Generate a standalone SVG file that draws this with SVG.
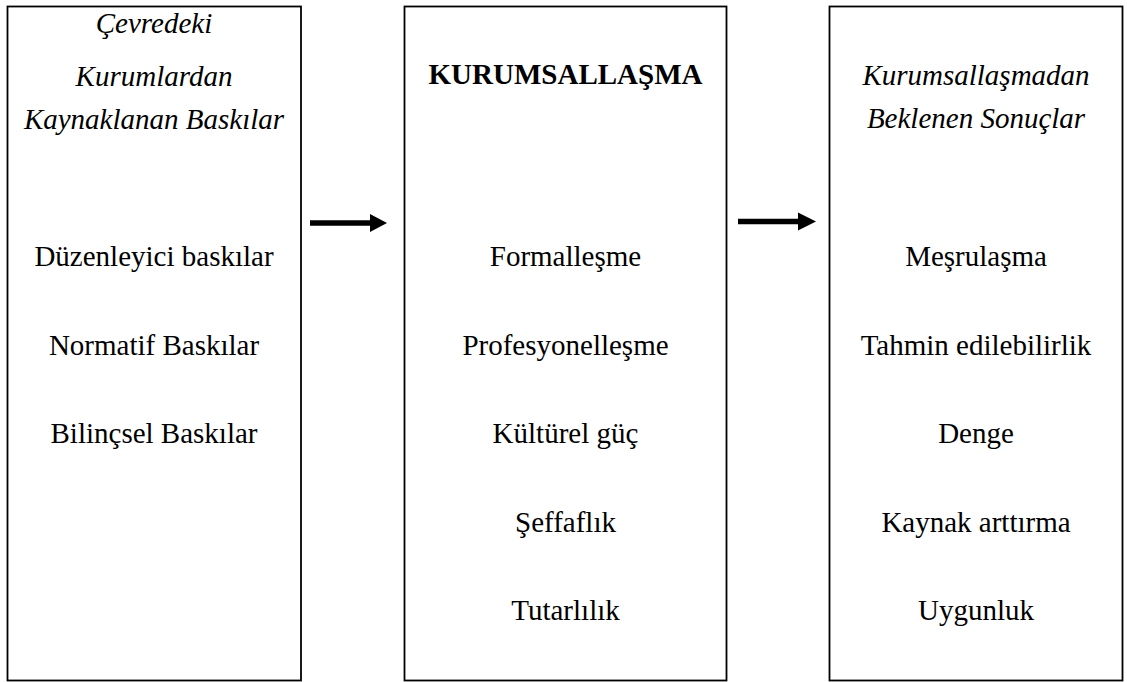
<svg xmlns="http://www.w3.org/2000/svg" width="1127" height="682" viewBox="0 0 1127 682">
<style>
.box{fill:#fff;stroke:#000;stroke-width:1.8}
text{font-family:"Liberation Serif","Times New Roman",serif;font-size:29px;fill:#000;text-anchor:middle}
.it{font-style:italic}
.b{font-weight:bold}
</style>
<rect width="1127" height="682" fill="#fff"/>
<g id="node-pressures">
<rect class="box" x="7.5" y="6.5" width="293.5" height="674"/>
<text class="it" x="154" y="33">Çevredeki</text>
<text class="it" x="154" y="86">Kurumlardan</text>
<text class="it" x="154" y="129">Kaynaklanan Baskılar</text>
<text x="154" y="266">Düzenleyici baskılar</text>
<text x="154" y="354.5">Normatif Baskılar</text>
<text x="154" y="443">Bilinçsel Baskılar</text>
</g>
<g id="node-institutionalization">
<rect class="box" x="404.5" y="6.5" width="322" height="674"/>
<text class="b" x="565.5" y="84">KURUMSALLAŞMA</text>
<text x="565.5" y="266">Formalleşme</text>
<text x="565.5" y="354.5">Profesyonelleşme</text>
<text x="565.5" y="443">Kültürel güç</text>
<text x="565.5" y="531.5">Şeffaflık</text>
<text x="565.5" y="620">Tutarlılık</text>
</g>
<g id="node-outcomes">
<rect class="box" x="829.5" y="6.5" width="293" height="674"/>
<text class="it" x="976" y="85">Kurumsallaşmadan</text>
<text class="it" x="976" y="128">Beklenen Sonuçlar</text>
<text x="976" y="266">Meşrulaşma</text>
<text x="976" y="354.5">Tahmin edilebilirlik</text>
<text x="976" y="443">Denge</text>
<text x="976" y="531.5">Kaynak arttırma</text>
<text x="976" y="620">Uygunluk</text>
</g>
<g id="connectors">
<line x1="310" y1="223" x2="371" y2="223" stroke="#000" stroke-width="5.5"/>
<polygon points="370,214 387,223 370,232"/>
<line x1="738" y1="221.5" x2="799" y2="221.5" stroke="#000" stroke-width="5.5"/>
<polygon points="798,212.5 816,221.5 798,230.5"/>
</g>
</svg>
